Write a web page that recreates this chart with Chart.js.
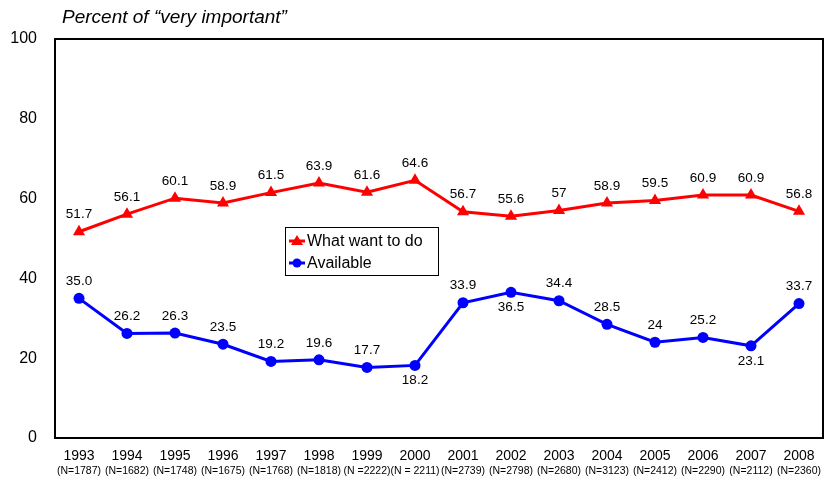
<!DOCTYPE html>
<html lang="en">
<head>
  <meta charset="UTF-8" />
  <title>Percent of "very important"</title>
  <script src="https://cdn.jsdelivr.net/npm/chart.js"></script>
  <style>
    body { margin: 0; background: #fff; overflow: hidden; }
    canvas { display: block; }
  </style>
</head>
<body>
  <canvas id="chart" width="827" height="480"></canvas>
  <script>
    const years = ['1993', '1994', '1995', '1996', '1997', '1998', '1999', '2000',
                   '2001', '2002', '2003', '2004', '2005', '2006', '2007', '2008'];
    const sampleSizes = ['(N=1787)', '(N=1682)', '(N=1748)', '(N=1675)', '(N=1768)', '(N=1818)',
                         '(N =2222)', '(N = 2211)', '(N=2739)', '(N=2798)', '(N=2680)', '(N=3123)',
                         '(N=2412)', '(N=2290)', '(N=2112)', '(N=2360)'];
    const wantValues = [51.7, 56.1, 60.1, 58.9, 61.5, 63.9, 61.6, 64.6, 56.7, 55.6, 57, 58.9, 59.5, 60.9, 60.9, 56.8];
    const wantLabels = ['51.7', '56.1', '60.1', '58.9', '61.5', '63.9', '61.6', '64.6',
                        '56.7', '55.6', '57', '58.9', '59.5', '60.9', '60.9', '56.8'];
    const availValues = [35.0, 26.2, 26.3, 23.5, 19.2, 19.6, 17.7, 18.2, 33.9, 36.5, 34.4, 28.5, 24, 25.2, 23.1, 33.7];
    const availLabels = ['35.0', '26.2', '26.3', '23.5', '19.2', '19.6', '17.7', '18.2',
                         '33.9', '36.5', '34.4', '28.5', '24', '25.2', '23.1', '33.7'];
    const yTicks = [0, 20, 40, 60, 80, 100];

    const FONT = 'Arial, "Liberation Sans", sans-serif';

    // value labels above/below each point
    const valueLabels = {
      id: 'valueLabels',
      afterDatasetsDraw(chart, args, opts) {
        const ctx = chart.ctx;
        ctx.save();
        ctx.font = '13.5px ' + FONT;
        ctx.fillStyle = '#000';
        ctx.textAlign = 'center';
        ctx.textBaseline = 'middle';
        chart.data.datasets.forEach((ds, di) => {
          const meta = chart.getDatasetMeta(di);
          const below = opts.below[di] || [];
          meta.data.forEach((pt, i) => {
            const dy = below.includes(i) ? 15 : -17;
            ctx.fillText(ds.valueText[i], pt.x, pt.y + dy);
          });
        });
        ctx.restore();
      }
    };

    // plot frame, title and the boxed legend
    const frame = {
      id: 'frame',
      afterDraw(chart) {
        const { ctx, chartArea: a } = chart;
        ctx.save();
        ctx.strokeStyle = '#000';
        ctx.lineWidth = 2;
        ctx.strokeRect(a.left, a.top, a.right - a.left, a.bottom - a.top);

        ctx.font = 'italic 19px ' + FONT;
        ctx.fillStyle = '#000';
        ctx.textBaseline = 'middle';
        ctx.fillText('Percent of \u201cvery important\u201d', 62, 18);

        // legend
        const lx = 285, ly = 227;
        ctx.fillStyle = '#fff';
        ctx.fillRect(lx, ly, 153, 48);
        ctx.lineWidth = 1;
        ctx.strokeRect(lx + 0.5, ly + 0.5, 153, 48);
        ctx.font = '16px ' + FONT;
        chart.data.datasets.forEach((ds, i) => {
          const y = ly + 14 + i * 22;
          ctx.strokeStyle = ds.borderColor;
          ctx.fillStyle = ds.borderColor;
          ctx.lineWidth = 3;
          ctx.beginPath();
          ctx.moveTo(lx + 4, y);
          ctx.lineTo(lx + 20, y);
          ctx.stroke();
          ctx.beginPath();
          if (ds.pointStyle === 'triangle') {
            ctx.moveTo(lx + 12, y - 6);
            ctx.lineTo(lx + 18, y + 4);
            ctx.lineTo(lx + 6, y + 4);
            ctx.closePath();
          } else {
            ctx.arc(lx + 12, y, 4.5, 0, Math.PI * 2);
          }
          ctx.fill();
          ctx.fillStyle = '#000';
          ctx.fillText(ds.label, lx + 22, y + 1);
        });
        ctx.restore();
      }
    };

    function fitBottom(h) {
      return s => { s.height = h; s.paddingLeft = 0; s.paddingRight = 0; };
    }

    new Chart(document.getElementById('chart'), {
      type: 'line',
      data: {
        labels: years,
        datasets: [{
          label: 'What want to do',
          data: wantValues,
          valueText: wantLabels,
          borderColor: '#ff0000',
          backgroundColor: '#ff0000',
          borderWidth: 3,
          pointStyle: 'triangle',
          pointRadius: 7,
          pointBorderWidth: 0,
          tension: 0
        }, {
          label: 'Available',
          data: availValues,
          valueText: availLabels,
          borderColor: '#0000ff',
          backgroundColor: '#0000ff',
          borderWidth: 3,
          pointStyle: 'circle',
          pointRadius: 5.5,
          pointBorderWidth: 0,
          tension: 0
        }]
      },
      options: {
        responsive: false,
        animation: false,
        layout: { autoPadding: false, padding: { top: 39, right: 4, left: 0, bottom: 0 } },
        plugins: {
          legend: { display: false },
          tooltip: { enabled: false },
          valueLabels: { below: [[], [7, 9, 14]] }
        },
        scales: {
          y: {
            min: 0, max: 100,
            afterBuildTicks: s => { s.ticks = yTicks.map(v => ({ value: v })); },
            afterFit: s => { s.width = 55; s.paddingTop = 0; s.paddingBottom = 0; },
            grid: { display: false, drawTicks: false },
            border: { display: false },
            ticks: { padding: 18, color: '#000', font: { size: 16, family: FONT } }
          },
          x: {
            weight: 0,
            offset: true,
            afterFit: fitBottom(26),
            grid: { display: false, drawTicks: false, offset: true },
            border: { display: false },
            ticks: { padding: 10, maxRotation: 0, minRotation: 0, autoSkip: false,
                     color: '#000', font: { size: 14, family: FONT } }
          },
          n: {
            type: 'category',
            position: 'bottom',
            weight: 1,
            offset: true,
            labels: sampleSizes,
            afterFit: fitBottom(16),
            grid: { display: false, drawTicks: false, offset: true },
            border: { display: false },
            ticks: { padding: 1, maxRotation: 0, minRotation: 0, autoSkip: false,
                     color: '#000', font: { size: 10.5, family: FONT } }
          }
        }
      },
      plugins: [valueLabels, frame]
    });
  </script>
</body>
</html>
